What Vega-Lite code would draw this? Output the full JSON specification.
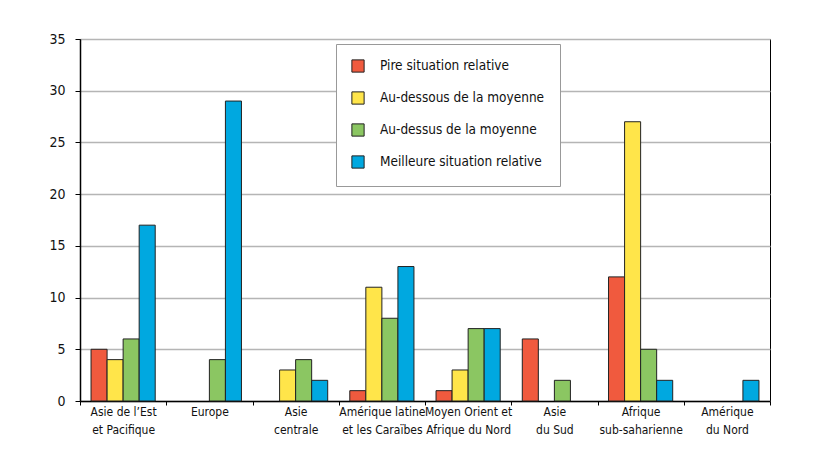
{
  "$schema": "https://vega.github.io/schema/vega-lite/v6.json",
  "width": 690,
  "height": 362,
  "autosize": "none",
  "padding": {"left": 80, "top": 39, "right": 57, "bottom": 55},
  "background": "white",
  "config": {
    "font": "DejaVu Sans Condensed, Roboto, sans-serif",
    "view": {"stroke": "black", "strokeWidth": 1}
  },
  "data": {
    "values": [
      {"region": "Asie de l’Est|et Pacifique", "cat": "Pire situation relative", "v": 5},
      {"region": "Asie de l’Est|et Pacifique", "cat": "Au-dessous de la moyenne", "v": 4},
      {"region": "Asie de l’Est|et Pacifique", "cat": "Au-dessus de la moyenne", "v": 6},
      {"region": "Asie de l’Est|et Pacifique", "cat": "Meilleure situation relative", "v": 17},
      {"region": "Europe", "cat": "Pire situation relative", "v": 0},
      {"region": "Europe", "cat": "Au-dessous de la moyenne", "v": 0},
      {"region": "Europe", "cat": "Au-dessus de la moyenne", "v": 4},
      {"region": "Europe", "cat": "Meilleure situation relative", "v": 29},
      {"region": "Asie|centrale", "cat": "Pire situation relative", "v": 0},
      {"region": "Asie|centrale", "cat": "Au-dessous de la moyenne", "v": 3},
      {"region": "Asie|centrale", "cat": "Au-dessus de la moyenne", "v": 4},
      {"region": "Asie|centrale", "cat": "Meilleure situation relative", "v": 2},
      {"region": "Amérique latine|et les Caraïbes", "cat": "Pire situation relative", "v": 1},
      {"region": "Amérique latine|et les Caraïbes", "cat": "Au-dessous de la moyenne", "v": 11},
      {"region": "Amérique latine|et les Caraïbes", "cat": "Au-dessus de la moyenne", "v": 8},
      {"region": "Amérique latine|et les Caraïbes", "cat": "Meilleure situation relative", "v": 13},
      {"region": "Moyen Orient et|Afrique du Nord", "cat": "Pire situation relative", "v": 1},
      {"region": "Moyen Orient et|Afrique du Nord", "cat": "Au-dessous de la moyenne", "v": 3},
      {"region": "Moyen Orient et|Afrique du Nord", "cat": "Au-dessus de la moyenne", "v": 7},
      {"region": "Moyen Orient et|Afrique du Nord", "cat": "Meilleure situation relative", "v": 7},
      {"region": "Asie|du Sud", "cat": "Pire situation relative", "v": 6},
      {"region": "Asie|du Sud", "cat": "Au-dessous de la moyenne", "v": 0},
      {"region": "Asie|du Sud", "cat": "Au-dessus de la moyenne", "v": 2},
      {"region": "Asie|du Sud", "cat": "Meilleure situation relative", "v": 0},
      {"region": "Afrique|sub-saharienne", "cat": "Pire situation relative", "v": 12},
      {"region": "Afrique|sub-saharienne", "cat": "Au-dessous de la moyenne", "v": 27},
      {"region": "Afrique|sub-saharienne", "cat": "Au-dessus de la moyenne", "v": 5},
      {"region": "Afrique|sub-saharienne", "cat": "Meilleure situation relative", "v": 2},
      {"region": "Amérique|du Nord", "cat": "Pire situation relative", "v": 0},
      {"region": "Amérique|du Nord", "cat": "Au-dessous de la moyenne", "v": 0},
      {"region": "Amérique|du Nord", "cat": "Au-dessus de la moyenne", "v": 0},
      {"region": "Amérique|du Nord", "cat": "Meilleure situation relative", "v": 2}
    ]
  },
  "transform": [{"filter": "datum.v > 0"}],
  "mark": {"type": "bar", "stroke": "#222", "strokeWidth": 1},
  "encoding": {
    "x": {
      "field": "region",
      "type": "nominal",
      "sort": null,
      "scale": {
        "domain": ["Asie de l’Est|et Pacifique", "Europe", "Asie|centrale", "Amérique latine|et les Caraïbes", "Moyen Orient et|Afrique du Nord", "Asie|du Sud", "Afrique|sub-saharienne", "Amérique|du Nord"],
        "paddingInner": 0,
        "paddingOuter": 0
      },
      "axis": {
        "title": null,
        "labelAngle": 0,
        "labelExpr": "split(datum.label, '|')",
        "labelFontSize": 12,
        "labelColor": "#111",
        "labelLineHeight": 18,
        "labelPadding": 1,
        "labelBaseline": "top",
        "labelLimit": 90,
        "tickBand": "extent",
        "tickColor": "black",
        "tickSize": 4,
        "domainColor": "black",
        "domainWidth": 1.5
      }
    },
    "xOffset": {
      "field": "cat",
      "type": "nominal",
      "sort": null,
      "scale": {
        "domain": ["Pire situation relative", "Au-dessous de la moyenne", "Au-dessus de la moyenne", "Meilleure situation relative"],
        "paddingInner": 0,
        "paddingOuter": 0.6875
      }
    },
    "y": {
      "field": "v",
      "type": "quantitative",
      "scale": {"domain": [0, 35], "nice": false},
      "axis": {
        "title": null,
        "values": [0, 5, 10, 15, 20, 25, 30, 35],
        "labelFontSize": 14,
        "labelColor": "#111",
        "labelPadding": 10,
        "tickSize": 5,
        "tickColor": "black",
        "domainColor": "black",
        "domainWidth": 1.5,
        "grid": true,
        "gridColor": "#b5b5b5",
        "gridWidth": 1.5
      }
    },
    "color": {
      "field": "cat",
      "type": "nominal",
      "sort": null,
      "scale": {
        "domain": ["Pire situation relative", "Au-dessous de la moyenne", "Au-dessus de la moyenne", "Meilleure situation relative"],
        "range": ["#F05A3E", "#FFE54A", "#8BC662", "#00A8E0"]
      },
      "legend": {
        "title": null,
        "orient": "none",
        "legendX": 256,
        "legendY": 5,
        "padding": 15,
        "fillColor": "white",
        "strokeColor": "#999",
        "symbolType": "square",
        "symbolSize": 150,
        "symbolStrokeColor": "#222",
        "symbolStrokeWidth": 1,
        "symbolOpacity": 1,
        "labelFontSize": 13.5,
        "labelColor": "#111",
        "labelOffset": 15,
        "rowPadding": 14,
        "labelLimit": 300
      }
    }
  }
}
